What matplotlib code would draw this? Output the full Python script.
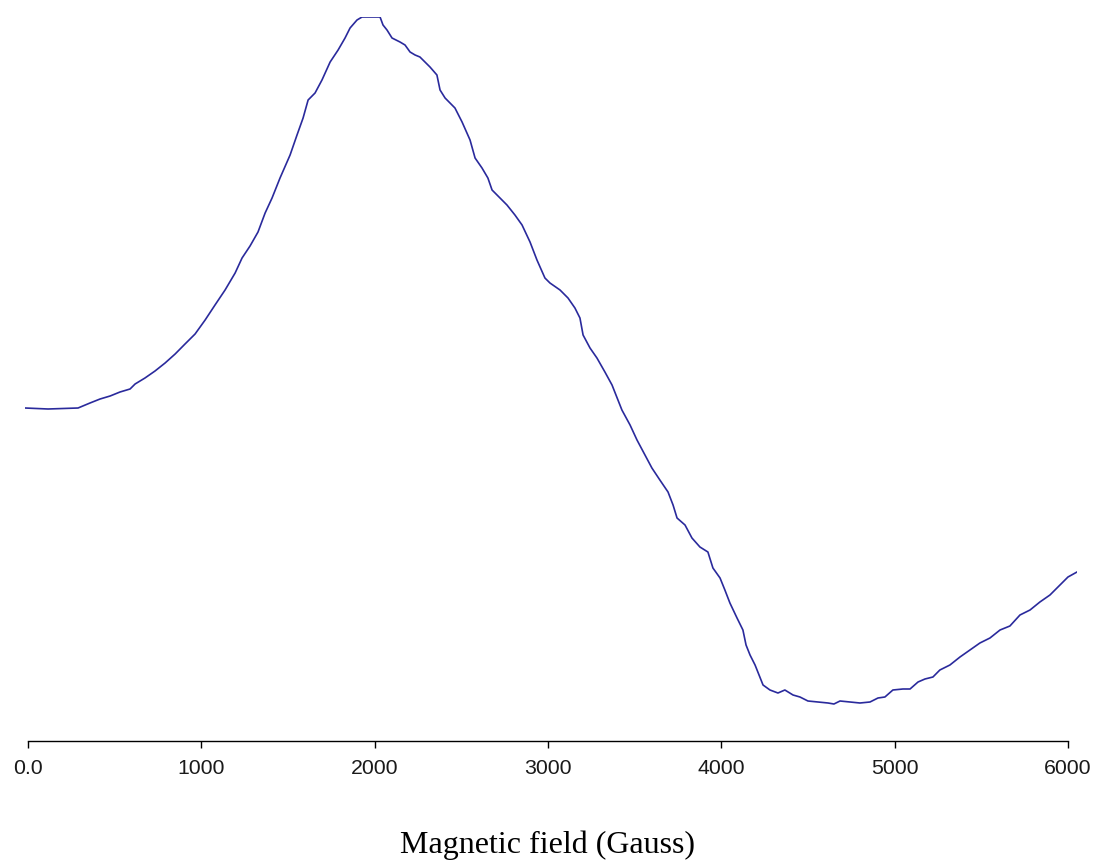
import matplotlib
matplotlib.use("Agg")
import matplotlib.pyplot as plt

# EPR trace: field in Gauss, signal in arbitrary units (0 = flat baseline)
field = [-16, 117, 290, 359, 417, 475, 532, 590, 619, 676, 734, 792, 850, 907,
         965, 1023, 1080, 1138, 1196, 1236, 1282, 1328, 1369, 1409, 1455, 1513,
         1553, 1588, 1617, 1657, 1697, 1744, 1790, 1830, 1859, 1899, 1928, 2032,
         2049, 2072, 2101, 2147, 2176, 2205, 2234, 2262, 2291, 2320, 2360, 2378,
         2407, 2464, 2505, 2551, 2580, 2620, 2654, 2678, 2724, 2764, 2810, 2851,
         2897, 2937, 2983, 3012, 3070, 3116, 3156, 3185, 3203, 3243, 3283, 3329,
         3370, 3404, 3427, 3474, 3514, 3560, 3600, 3646, 3693, 3722, 3745, 3791,
         3831, 3877, 3923, 3952, 3993, 4021, 4050, 4091, 4125, 4143, 4166, 4195,
         4223, 4241, 4281, 4327, 4367, 4414, 4454, 4500, 4558, 4616, 4650, 4685,
         4742, 4800, 4858, 4904, 4944, 4990, 5048, 5089, 5135, 5175, 5221, 5261,
         5319, 5377, 5434, 5492, 5550, 5608, 5665, 5723, 5781, 5838, 5896, 5954,
         6000, 6052]
signal = [0, -1, 0, 5, 9, 12, 16, 19, 24, 30, 37, 45, 54, 64,
          74, 88, 103, 118, 135, 150, 162, 176, 195, 210, 230, 253,
          273, 290, 308, 315, 328, 346, 358, 370, 380, 388, 391, 391,
          383, 378, 370, 366, 363, 356, 353, 351, 346, 341, 333, 318,
          310, 300, 286, 268, 250, 240, 230, 218, 210, 203, 193, 183,
          166, 148, 130, 125, 118, 110, 100, 90, 73, 60, 50, 36,
          23, 8, -2, -17, -32, -47, -60, -72, -84, -97, -110, -117,
          -130, -139, -144, -160, -170, -182, -195, -210, -222, -237, -247, -257,
          -269, -277, -282, -285, -282, -287, -289, -293, -294, -295, -296, -293,
          -294, -295, -294, -290, -289, -282, -281, -281, -274, -271, -269, -262,
          -257, -249, -242, -235, -230, -222, -218, -207, -202, -194, -187, -177,
          -169, -164]

ticks = [0, 1000, 2000, 3000, 4000, 5000, 6000]
tick_labels = ["0.0", "1000", "2000", "3000", "4000", "5000", "6000"]

fig = plt.figure(figsize=(10.99, 8.65), dpi=100)
ax = fig.add_axes([25 / 1099, 124 / 865, 1052 / 1099, 724 / 865])

ax.plot(field, signal, color="#2a2a9c", lw=1.2)

ax.set_xlim(-16, 6052)
ax.set_ylim(-333, 391)

for side in ["top", "right", "left"]:
    ax.spines[side].set_visible(False)
ax.spines["bottom"].set_bounds(0, 6000)
ax.spines["bottom"].set_linewidth(1.0)
ax.set_yticks([])
ax.set_xticks(ticks)
ax.set_xticklabels(tick_labels, fontfamily="Liberation Sans", fontsize=15.3,
                   color="#1a1a1a")
ax.tick_params(axis="x", length=5, width=1.0, pad=8)

fig.text(548 / 1099, 20 / 865, "Magnetic field (Gauss)",
         fontfamily="Liberation Serif", fontsize=23, ha="center", va="center")

fig.savefig("out.png", dpi=100, facecolor="white")
